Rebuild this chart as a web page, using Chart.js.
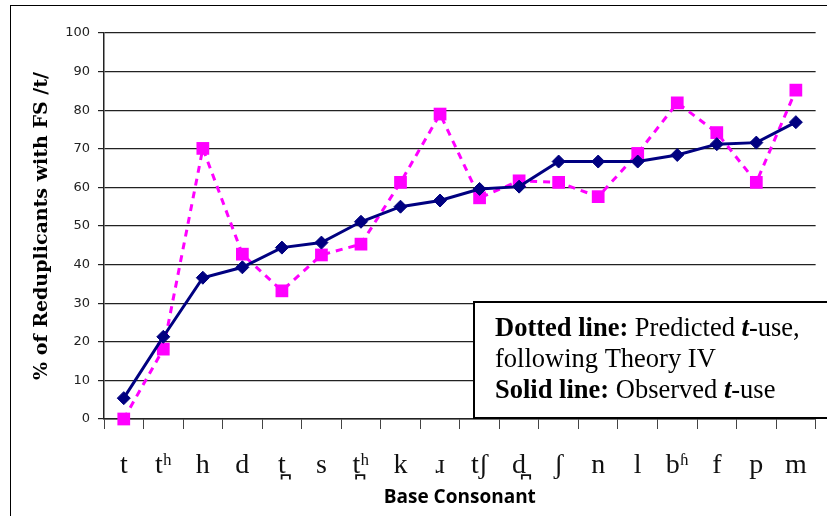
<!DOCTYPE html>
<html>
<head>
<meta charset="utf-8">
<title>Reduplicants with FS /t/</title>
<script src="https://cdn.jsdelivr.net/npm/chart.js@4.4.0/dist/chart.umd.min.js"></script>
<style>
  html, body { margin: 0; padding: 0; background: #fff; }
  #wrap { width: 827px; height: 516px; }
</style>
</head>
<body>
<div id="wrap"><canvas id="chart" width="827" height="516"></canvas></div>
<script>
// base consonants along the x axis
const consonants = ['t', 'tʰ', 'h', 'd', 't̪', 's', 't̪ʰ', 'k', 'ɹ', 'tʃ', 'd̪', 'ʃ', 'n', 'l', 'bʱ', 'f', 'p', 'm'];
// solid line: observed t-use (%)
const observed = [5.4, 21.3, 36.6, 39.3, 44.4, 45.7, 51.1, 55.0, 56.6, 59.6, 60.2, 66.7, 66.7, 66.7, 68.4, 71.2, 71.6, 76.9];
// dotted line: predicted t-use, Theory IV (%)
const predicted = [0, 18.1, 70.1, 42.7, 33.2, 42.5, 45.3, 61.3, 79.0, 57.3, 61.7, 61.3, 57.6, 68.8, 81.9, 74.2, 61.3, 85.2];
const yTicks = [0, 10, 20, 30, 40, 50, 60, 70, 80, 90, 100];

// text box lines: [text, bold, italic]
const noteLines = [
  [['Dotted line:', true, false], [' Predicted ', false, false], ['t', true, true], ['-use,', false, false]],
  [['following Theory IV', false, false]],
  [['Solid line:', true, false], [' Observed ', false, false], ['t', true, true], ['-use', false, false]]
];

const frameAndNote = {
  id: 'frameAndNote',
  beforeDraw(chart) {
    const ctx = chart.ctx;
    ctx.save();
    ctx.fillStyle = '#fff';
    ctx.fillRect(0, 0, chart.width, chart.height);
    ctx.strokeStyle = '#000';
    ctx.lineWidth = 1;
    ctx.strokeRect(10.5, 5.5, 900, 600);
    ctx.restore();
  },
  afterDraw(chart) {
    const ctx = chart.ctx;
    ctx.save();
    ctx.fillStyle = '#fff';
    ctx.fillRect(474, 302, 400, 116);
    ctx.strokeStyle = '#000';
    ctx.lineWidth = 2;
    ctx.strokeRect(474, 302, 400, 116);
    ctx.fillStyle = '#000';
    ctx.textBaseline = 'alphabetic';
    let y = 336;
    noteLines.forEach(line => {
      let x = 495;
      line.forEach(([txt, b, it]) => {
        ctx.font = (it ? 'italic ' : '') + (b ? 'bold ' : '') + '26.5px "Liberation Serif", "Times New Roman", serif';
        ctx.fillText(txt, x, y);
        x += ctx.measureText(txt).width;
      });
      y += 31;
    });
    ctx.restore();
  }
};

new Chart(document.getElementById('chart'), {
  type: 'line',
  data: {
    labels: consonants,
    datasets: [
      {
        label: 'Observed t-use',
        data: observed,
        borderColor: '#000080',
        backgroundColor: '#000080',
        borderWidth: 3,
        pointStyle: 'rectRot',
        pointRadius: 6.5,
        pointBorderWidth: 1,
        tension: 0,
        clip: false
      },
      {
        label: 'Predicted t-use',
        data: predicted,
        borderColor: '#ff00ff',
        backgroundColor: '#ff00ff',
        borderWidth: 3,
        borderDash: [7, 6],
        pointStyle: 'rect',
        pointRadius: 9,
        pointBorderWidth: 0,
        tension: 0,
        clip: false
      }
    ]
  },
  options: {
    responsive: false,
    devicePixelRatio: 1,
    animation: false,
    layout: { padding: { top: 33, right: 0, bottom: 0, left: 0 } },
    plugins: {
      legend: { display: false },
      tooltip: { enabled: false }
    },
    scales: {
      x: {
        type: 'category',
        offset: true,
        afterFit(scale) { scale.height = 97; },
        grid: {
          offset: true,
          drawOnChartArea: false,
          drawTicks: true,
          tickLength: 10,
          color: '#444'
        },
        border: { color: '#222', width: 1.5 },
        ticks: {
          color: '#111',
          padding: 20,
          maxRotation: 0,
          autoSkip: false,
          font: { family: '"Liberation Serif", "DejaVu Serif", serif', size: 28 }
        },
        title: {
          display: true,
          text: 'Base Consonant',
          color: '#000',
          padding: { top: 0, bottom: 7 },
          font: { family: '"Open Sans", sans-serif', size: 19, weight: 'bold' }
        }
      },
      y: {
        min: 0,
        max: 100,
        afterFit(scale) { scale.width = 104; },
        afterBuildTicks(scale) { scale.ticks = yTicks.map(v => ({ value: v })); },
        grid: {
          color: '#222',
          lineWidth: 1.2,
          tickLength: 6
        },
        border: { color: '#222', width: 1.5 },
        ticks: {
          color: '#222',
          padding: 8,
          font: { family: '"DejaVu Sans", Verdana, sans-serif', size: 13 }
        },
        title: {
          display: true,
          text: '% of Reduplicants with FS /t/',
          color: '#000',
          padding: { top: 31, bottom: 0 },
          font: { family: '"DejaVu Serif", serif', size: 19, weight: 'bold' }
        }
      }
    }
  },
  plugins: [frameAndNote]
});
</script>
</body>
</html>
